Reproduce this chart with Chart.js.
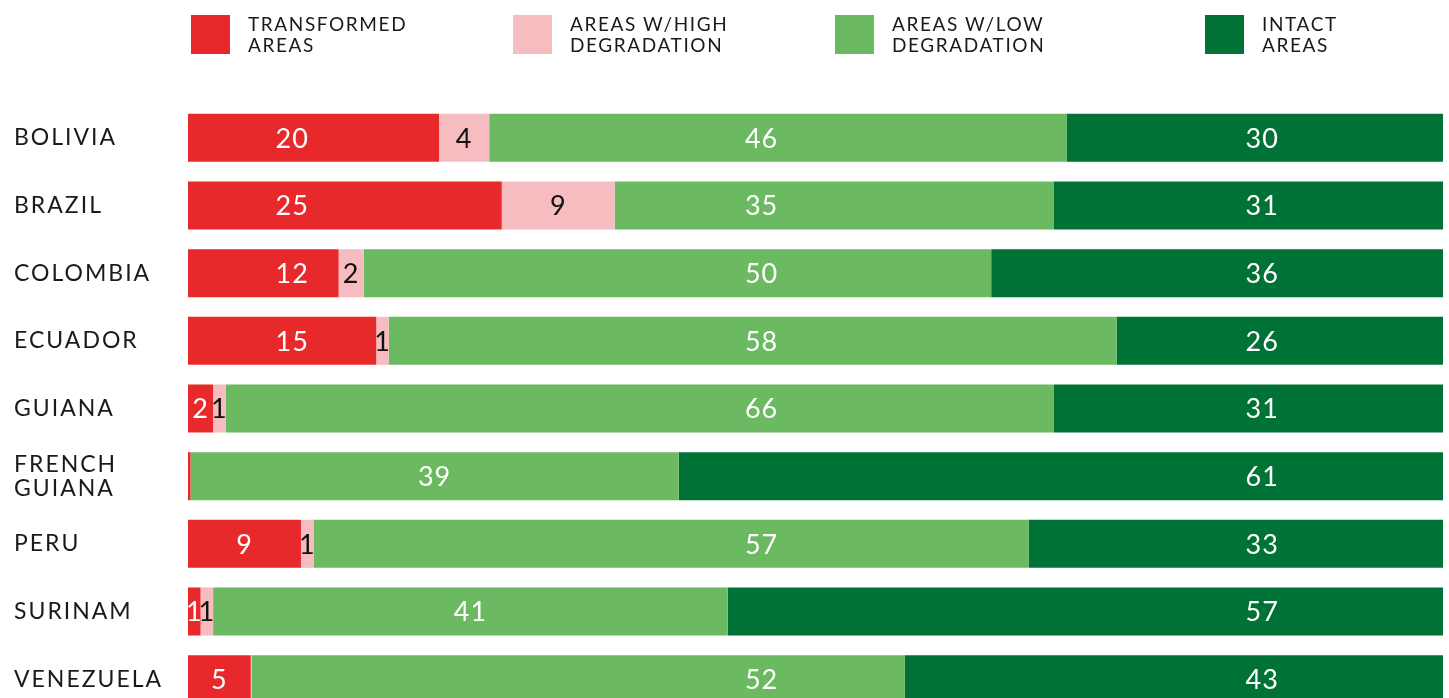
<!DOCTYPE html>
<html>
<head>
<meta charset="utf-8">
<script src="https://cdn.jsdelivr.net/npm/chart.js@4/dist/chart.umd.min.js"></script>
<style>
    html, body { margin: 0; padding: 0; background: #fff; overflow: hidden; }
    body { width: 1449px; height: 698px; position: relative; font-family: 'Lato', sans-serif; }
    .legend-item { position: absolute; top: 15px; height: 40px; z-index: 2; }
    .legend-item .swatch { position: absolute; left: 0; top: 0; width: 39px; height: 39px; }
    .legend-item .text { position: absolute; left: 57px; top: -2px; font-size: 19px; line-height: 21px; color: #1a1a1a; white-space: nowrap; letter-spacing: 1.6px; }
    #chart { position: absolute; left: 0; top: 0; }
</style>
</head>
<body>
<div id="legend"></div>
<canvas id="chart" width="1449" height="713"></canvas>
<script>
    const countries = ['BOLIVIA', 'BRAZIL', 'COLOMBIA', 'ECUADOR', 'GUIANA', ['FRENCH', 'GUIANA'], 'PERU', 'SURINAM', 'VENEZUELA'];
    const transformed = [20, 25, 12, 15, 2, 0.2, 9, 1, 5];
    const highDegradation = [4, 9, 2, 1, 1, 0, 1, 1, 0.1];
    const lowDegradation = [46, 35, 50, 58, 66, 38.9, 57, 41, 52];
    const intact = [30, 31, 36, 26, 31, 60.9, 33, 57, 42.9];

    const seriesNames = [['TRANSFORMED', 'AREAS'], ['AREAS W/HIGH', 'DEGRADATION'], ['AREAS W/LOW', 'DEGRADATION'], ['INTACT', 'AREAS']];
    const seriesColors = ['#e8292b', '#f6bcbf', '#6bb960', '#007236'];
    const labelColors = ['#ffffff', '#111111', '#ffffff', '#ffffff'];
    // where each series likes its number (axis value), if the segment has room for it
    const labelAnchors = [8.3, null, 45.7, 85.6];
    const legendLeft = [191, 513, 835, 1205];

    // html legend, two-line labels
    const legendEl = document.getElementById('legend');
    seriesNames.forEach((name, i) => {
        const item = document.createElement('div');
        item.className = 'legend-item';
        item.style.left = legendLeft[i] + 'px';
        item.innerHTML = '<div class="swatch" style="background:' + seriesColors[i] + '"></div>' +
            '<div class="text">' + name.join('<br>') + '</div>';
        legendEl.appendChild(item);
    });

    // wider tracking for the axis labels
    const tracking = {
        id: 'tracking',
        beforeDraw(chart) { chart.ctx.letterSpacing = '2px'; },
        afterDraw(chart) { chart.ctx.letterSpacing = '0px'; }
    };

    // values written inside each segment
    const segmentLabels = {
        id: 'segmentLabels',
        afterDatasetsDraw(chart) {
            const ctx = chart.ctx;
            const xScale = chart.scales.x;
            ctx.save();
            ctx.letterSpacing = '1px';
            ctx.font = '27px Lato';
            ctx.textAlign = 'center';
            ctx.textBaseline = 'middle';
            chart.data.datasets.forEach((ds, di) => {
                const meta = chart.getDatasetMeta(di);
                meta.data.forEach((bar, i) => {
                    const v = ds.data[i];
                    if (v < 0.5) return;
                    const text = String(Math.round(v));
                    const half = ctx.measureText(text).width / 2;
                    const left = Math.min(bar.x, bar.base);
                    const right = Math.max(bar.x, bar.base);
                    let x = (left + right) / 2;
                    if (labelAnchors[di] !== null) {
                        const ax = xScale.getPixelForValue(labelAnchors[di]);
                        if (ax - half - 8 >= left && ax + half + 8 <= right) x = ax;
                    }
                    ctx.fillStyle = labelColors[di];
                    ctx.fillText(text, x, bar.y + 1);
                });
            });
            ctx.restore();
        }
    };

    const datasetValues = [transformed, highDegradation, lowDegradation, intact];

    new Chart(document.getElementById('chart'), {
        type: 'bar',
        data: {
            labels: countries,
            datasets: datasetValues.map((vals, i) => ({
                label: seriesNames[i].join(' '),
                data: vals,
                backgroundColor: seriesColors[i],
                borderWidth: 0,
                barPercentage: 0.71,
                categoryPercentage: 1
            }))
        },
        options: {
            indexAxis: 'y',
            responsive: false,
            animation: false,
            layout: { padding: { left: 14, right: 6, top: 104, bottom: 0 } },
            scales: {
                x: {
                    stacked: true,
                    display: false,
                    min: 0,
                    max: 100
                },
                y: {
                    stacked: true,
                    grid: { display: false },
                    border: { display: false },
                    afterFit: scale => {
                        scale.width = 174;
                        scale.paddingTop = 0;
                        scale.paddingBottom = 0;
                    },
                    ticks: {
                        crossAlign: 'far',
                        color: '#1a1a1a',
                        font: { family: 'Lato', size: 23, lineHeight: 1.05 }
                    }
                }
            },
            plugins: {
                legend: { display: false },
                tooltip: { enabled: false }
            }
        },
        plugins: [tracking, segmentLabels]
    });
</script>
</body>
</html>
